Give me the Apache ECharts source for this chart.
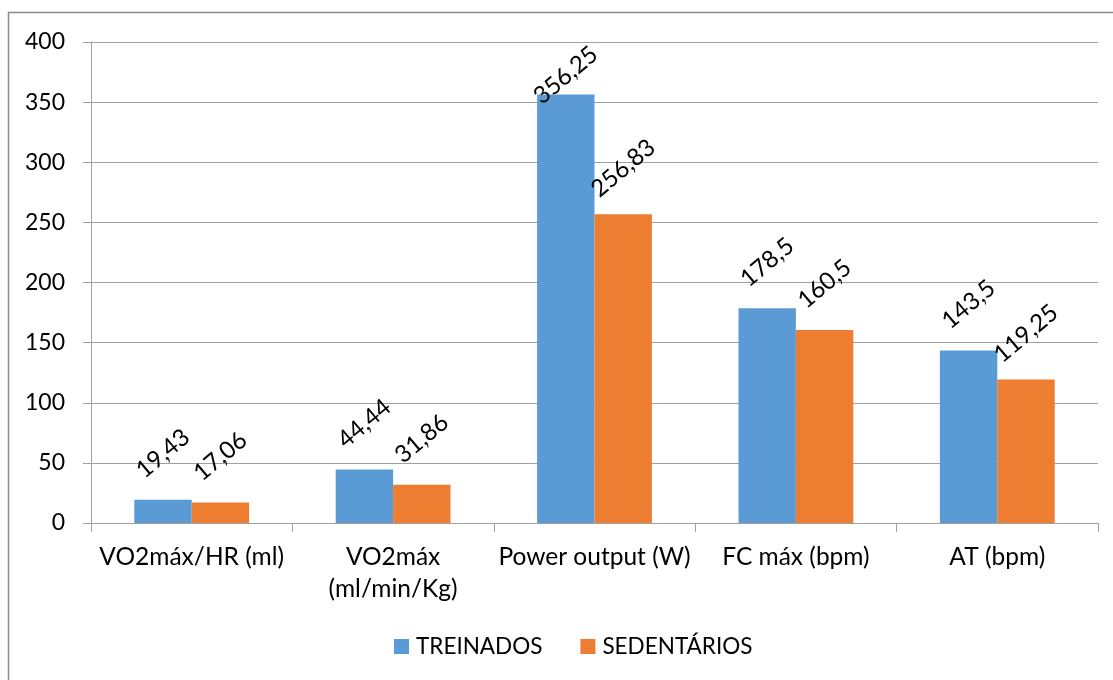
<!DOCTYPE html>
<html>
<head>
<meta charset="utf-8">
<script src="https://cdn.jsdelivr.net/npm/echarts@6/dist/echarts.min.js"></script>
<style>
html,body{margin:0;padding:0;background:#fff;}
#chart{width:1113px;height:680px;}
</style>
</head>
<body>
<div id="chart"></div>
<script>
const categories = ["VO2máx/HR (ml)", "VO2máx\n(ml/min/Kg)", "Power output (W)", "FC máx (bpm)", "AT (bpm)"];
const seriesNames = ["TREINADOS", "SEDENTÁRIOS"];
const treinados = [19.43, 44.44, 356.25, 178.5, 143.5];
const sedentarios = [17.06, 31.86, 256.83, 160.5, 119.25];
const yTicks = { min: 0, max: 400, interval: 50 };

const FONT = 'Lato';
const GRID_TOP = 42;
const colors = ['#5B9BD5', '#ED7D31'];

function fmt(v) { return String(v).replace('.', ','); }

const chart = echarts.init(document.getElementById('chart'), null, { renderer: 'canvas' });

const labelCfg = {
  show: true,
  position: 'top',
  distance: 46,
  rotate: 40,
  align: 'center',
  verticalAlign: 'middle',
  fontFamily: FONT,
  fontSize: 24,
  color: '#000',
  formatter: p => fmt(p.value)
};

function clampLayout(params) {
  const r = params.labelRect;
  if (r.y < GRID_TOP) {
    return { y: GRID_TOP + r.height / 2 };
  }
  return {};
}

chart.setOption({
  animation: false,
  color: colors,
  textStyle: { fontFamily: FONT },
  graphic: [{
    type: 'rect',
    shape: { x: 8.5, y: 12.5, width: 1300, height: 1000 },
    style: { fill: 'none', stroke: '#8c8c8c', lineWidth: 1.5 },
    silent: true
  }],
  grid: { left: 91, right: 15, top: GRID_TOP, bottom: 157, containLabel: false },
  legend: {
    data: seriesNames,
    left: 394,
    top: 635,
    padding: 0,
    icon: 'rect',
    itemWidth: 15,
    itemHeight: 15,
    itemGap: 38,
    textStyle: { fontFamily: FONT, fontSize: 22.5, color: '#000', padding: [0, 0, 0, 2] }
  },
  xAxis: {
    type: 'category',
    data: categories,
    axisLine: { lineStyle: { color: '#a0a0a0', width: 1 } },
    axisTick: { show: true, length: 9, lineStyle: { color: '#a0a0a0' } },
    axisLabel: { fontFamily: FONT, fontSize: 24.5, color: '#000', margin: 18, lineHeight: 32, interval: 0 }
  },
  yAxis: {
    type: 'value',
    min: yTicks.min,
    max: yTicks.max,
    interval: yTicks.interval,
    axisLine: { show: true, lineStyle: { color: '#a0a0a0', width: 1 } },
    axisTick: { show: true, length: 8, lineStyle: { color: '#a0a0a0' } },
    axisLabel: { fontFamily: FONT, fontSize: 23, color: '#000', margin: 26 },
    splitLine: { show: true, lineStyle: { color: '#a0a0a0', width: 1 } }
  },
  series: [
    {
      name: seriesNames[0],
      type: 'bar',
      data: treinados,
      barGap: '0%',
      barCategoryGap: '43%',
      itemStyle: { color: colors[0] },
      label: labelCfg,
      labelLayout: clampLayout
    },
    {
      name: seriesNames[1],
      type: 'bar',
      data: sedentarios,
      barGap: '0%',
      barCategoryGap: '43%',
      itemStyle: { color: colors[1] },
      label: labelCfg,
      labelLayout: clampLayout
    }
  ]
});
</script>
</body>
</html>
